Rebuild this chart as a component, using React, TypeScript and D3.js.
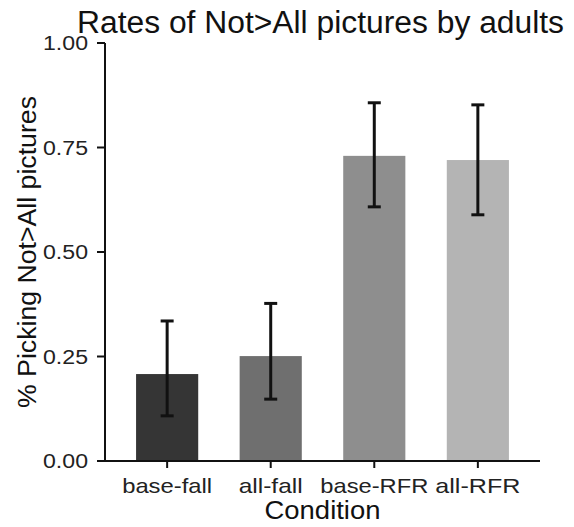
import React from "react";
import * as d3 from "d3";

const categories = ["base-fall", "all-fall", "base-RFR", "all-RFR"];
const means = [0.208, 0.251, 0.73, 0.72];
const lower = [0.108, 0.148, 0.608, 0.589];
const upper = [0.335, 0.377, 0.857, 0.852];
const colors = ["#353535", "#6f6f6f", "#8e8e8e", "#b4b4b4"];
const yTicks = [0, 0.25, 0.5, 0.75, 1.0];
const labelWidths = [90, 64, 108, 85];

const W = 574;
const H = 527;
const font = "'Liberation Sans', Arial, Helvetica, sans-serif";

export default function App() {
  const left = 105;
  const right = 540;
  const top = 43;
  const bottom = 461;
  const x = d3
    .scaleBand<string>()
    .domain(categories)
    .range([left, right])
    .paddingInner(0.4)
    .paddingOuter(0.3);
  const y = d3.scaleLinear().domain([0, 1]).range([bottom, top]);
  const cap = 6.5;
  return (
    <svg
      width={W}
      height={H}
      style={{ position: "absolute", left: 0, top: 0, background: "#fff" }}
      fontFamily={font}
    >
      <text x={77} y={33} fontSize={31} fill="#111" textLength={487} lengthAdjust="spacingAndGlyphs">
        Rates of Not&gt;All pictures by adults
      </text>
      {categories.map((c, i) => (
        <rect
          key={c}
          x={x(c)!}
          y={y(means[i])}
          width={x.bandwidth()}
          height={y(0) - y(means[i])}
          fill={colors[i]}
        />
      ))}
      {categories.map((c, i) => {
        const cx = x(c)! + x.bandwidth() / 2;
        return (
          <g key={c + "e"} stroke="#111" strokeWidth={3}>
            <line x1={cx} x2={cx} y1={y(lower[i])} y2={y(upper[i])} />
            <line x1={cx - cap} x2={cx + cap} y1={y(lower[i])} y2={y(lower[i])} />
            <line x1={cx - cap} x2={cx + cap} y1={y(upper[i])} y2={y(upper[i])} />
          </g>
        );
      })}
      {/* y axis */}
      <line x1={left} x2={left} y1={y(1)} y2={y(0)} stroke="#111" strokeWidth={2} />
      {yTicks.map((t) => (
        <g key={t}>
          <line x1={left - 8} x2={left} y1={y(t)} y2={y(t)} stroke="#111" strokeWidth={2} />
          <text
            x={88}
            y={y(t)}
            dy="0.36em"
            textAnchor="end"
            fontSize={20}
            fill="#222"
            textLength={45}
            lengthAdjust="spacingAndGlyphs"
          >
            {t.toFixed(2)}
          </text>
        </g>
      ))}
      {/* x axis */}
      <line x1={left - 1} x2={right} y1={bottom} y2={bottom} stroke="#111" strokeWidth={2} />
      {categories.map((c, i) => {
        const cx = x(c)! + x.bandwidth() / 2;
        return (
          <g key={c + "t"}>
            <line x1={cx} x2={cx} y1={bottom} y2={bottom + 7} stroke="#111" strokeWidth={2} />
            <text
              x={cx}
              y={493}
              textAnchor="middle"
              fontSize={21}
              fill="#222"
              textLength={labelWidths[i]}
              lengthAdjust="spacingAndGlyphs"
            >
              {c}
            </text>
          </g>
        );
      })}
      <text
        x={(left + right) / 2}
        y={519}
        textAnchor="middle"
        fontSize={25}
        fill="#111"
        textLength={116}
        lengthAdjust="spacingAndGlyphs"
      >
        Condition
      </text>
      <text
        transform={`translate(36, ${(top + bottom) / 2}) rotate(-90)`}
        textAnchor="middle"
        fontSize={25}
        fill="#111"
        textLength={312}
        lengthAdjust="spacingAndGlyphs"
      >
        % Picking Not&gt;All pictures
      </text>
    </svg>
  );
}
